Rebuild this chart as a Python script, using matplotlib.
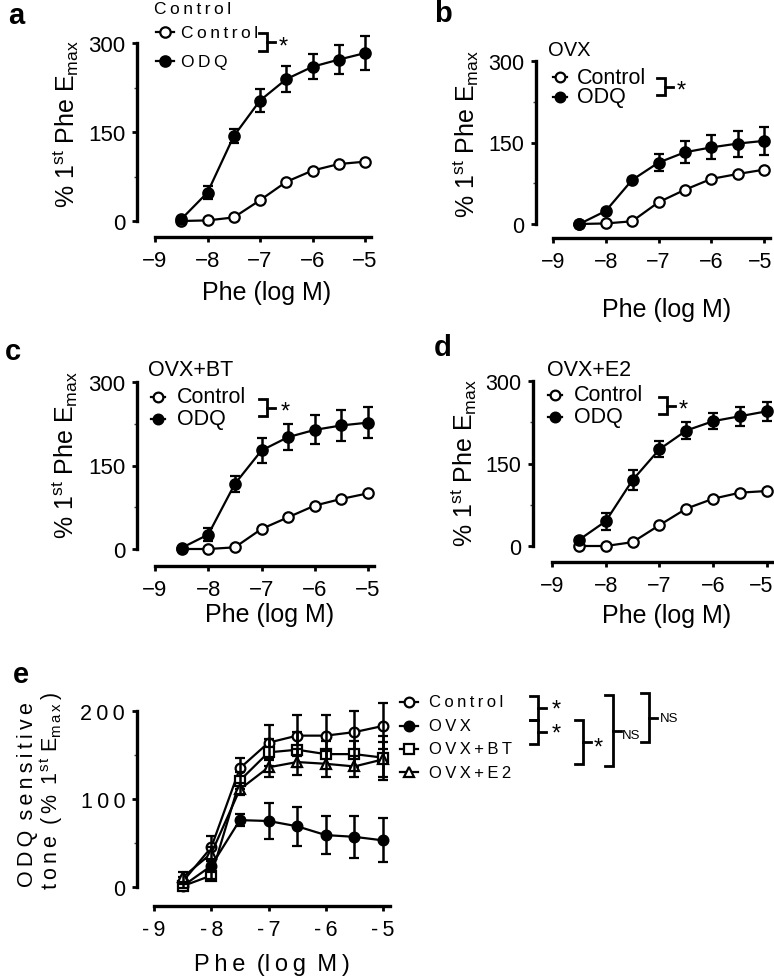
import matplotlib
matplotlib.use('Agg')
import matplotlib.pyplot as plt
from matplotlib.lines import Line2D
from matplotlib.transforms import ScaledTranslation

plt.rcParams['font.family'] = ['Liberation Sans', 'DejaVu Sans']
plt.rcParams['mathtext.fontset'] = 'custom'
plt.rcParams['mathtext.rm'] = 'Liberation Sans'
plt.rcParams['mathtext.it'] = 'Liberation Sans:italic'
plt.rcParams['mathtext.bf'] = 'Liberation Sans:bold'

# ---------------- data ----------------
log_phe = [-8.5, -8, -7.5, -7, -6.5, -6, -5.5, -5]
x_ticks = [-9, -8, -7, -6, -5]

a_control = [0, 1, 6, 35, 66, 85, 96, 100]
a_odq = [3, 48, 143, 203, 239, 260, 272, 283]
a_odq_err = [2, 11, 12, 19, 22, 21, 24, 28]

b_control = [0, 1, 5, 40, 63, 83, 92, 100]
b_odq = [0, 24, 81, 113, 132, 141, 148, 153]
b_odq_err = [1, 3, 3, 16, 20, 22, 24, 26]

c_control = [0, 0, 3, 36, 57, 78, 90, 100]
c_odq = [2, 26, 117, 177, 201, 214, 222, 227]
c_odq_err = [2, 12, 15, 22, 24, 26, 28, 28]

d_control = [0, 0, 7, 38, 68, 86, 97, 100]
d_odq = [11, 45, 120, 176, 210, 227, 236, 245]
d_odq_err = [3, 15, 19, 15, 15, 15, 17, 17]

e_control = [6, 45, 135, 164, 172, 172, 176, 183]
e_control_err = [5, 13, 12, 20, 23, 24, 24, 26]
e_ovx = [1, 24, 76, 75, 69, 59, 57, 53]
e_ovx_err = [2, 5, 7, 21, 22, 22, 24, 25]
e_bt = [1, 13, 121, 153, 156, 151, 151, 147]
e_bt_err = [2, 4, 10, 15, 20, 15, 15, 25]
e_e2 = [11, 38, 111, 136, 142, 140, 137, 145]
e_e2_err = [6, 8, 7, 11, 15, 15, 12, 20]

W, H = 774, 979
fig = plt.figure(figsize=(W / 100, H / 100), dpi=100)


def fx(px):
    return px / W


def fy(py):
    return 1 - py / H


def sp(s):
    return '\u2009'.join(s)


def make_axes(x_m9, x_m5, y_zero, y_top, top_val, xaxis_y, yspine_x,
              yticks, ytick_labels=None, xtick_labels=None, tick_fs=16,
              xmax=-4.88, shift_last=0):
    ppx = (x_m5 - x_m9) / 4.0
    ppy = (y_zero - y_top) / float(top_val)
    left = x_m9
    right = x_m9 + (xmax + 9) * ppx
    ymin = -(xaxis_y - y_zero) / ppy
    ax = fig.add_axes([fx(left), fy(xaxis_y), (right - left) / W,
                       (xaxis_y - y_top) / H])
    ax.set_xlim(-9, xmax)
    ax.set_ylim(ymin, top_val)
    ax.patch.set_visible(False)
    for s in ['top', 'right']:
        ax.spines[s].set_visible(False)
    ax.spines['left'].set_position(('outward', (left - yspine_x) * 0.72))
    ax.spines['left'].set_bounds(0, top_val)
    ax.spines['left'].set_linewidth(2.4)
    ax.spines['bottom'].set_linewidth(2.4)
    ax.set_yticks(yticks)
    ax.set_yticks([(yticks[i] + yticks[i + 1]) / 2 for i in range(len(yticks) - 1)],
                  minor=True)
    ax.set_xticks(x_ticks)
    ax.set_xticks([], minor=True)
    if ytick_labels is not None:
        ax.set_yticklabels(ytick_labels)
    if xtick_labels is not None:
        ax.set_xticklabels(xtick_labels)
    ax.tick_params(axis='both', which='major', direction='out', length=3.5,
                   width=2.0, labelsize=tick_fs, color='black')
    ax.tick_params(axis='y', which='major', pad=5)
    ax.tick_params(axis='x', which='major', pad=6)
    ax.tick_params(axis='y', which='minor', direction='out', length=2.5,
                   width=1.0, color='#444444')
    if shift_last:
        fig.canvas.draw()
        lab = ax.get_xticklabels()[-1]
        lab.set_transform(lab.get_transform() +
                          ScaledTranslation(-shift_last / 100.0, 0,
                                            fig.dpi_scale_trans))
    return ax


def plot_series(ax, y, err, filled, marker='o', ms=7.5, z=3):
    mfc = 'black' if filled else 'white'
    cont = ax.errorbar(log_phe, y, yerr=err, fmt='-' + marker, color='black',
                       mfc=mfc, mec='black', ms=ms, mew=1.6, lw=1.6,
                       elinewidth=1.8, capsize=3.8, capthick=1.8, zorder=z,
                       clip_on=False)
    for ch in cont.get_children():
        ch.set_clip_on(False)
        ch.set_zorder(z)
    return cont


def legend_row(xm, y, filled, label, label_x, fs, marker='o', ms=7.5,
               half=9):
    mfc = 'black' if filled else 'white'
    fig.add_artist(Line2D([fx(xm - half), fx(xm + half)], [fy(y), fy(y)],
                          transform=fig.transFigure, color='black', lw=1.6))
    fig.add_artist(Line2D([fx(xm)], [fy(y)], transform=fig.transFigure,
                          marker=marker, ms=ms, mfc=mfc, mec='black', mew=1.6,
                          color='black', lw=0))
    fig.text(fx(label_x), fy(y), label, ha='left', va='center', fontsize=fs)


def bracket(x, y1, y2, arm=8, tick=8, lw=2.0):
    fig.add_artist(Line2D([fx(x - arm), fx(x), fx(x), fx(x - arm)],
                          [fy(y1), fy(y1), fy(y2), fy(y2)],
                          transform=fig.transFigure, color='black', lw=lw,
                          solid_joinstyle='miter'))
    ym = (y1 + y2) / 2.0
    fig.add_artist(Line2D([fx(x), fx(x + tick)], [fy(ym), fy(ym)],
                          transform=fig.transFigure, color='black', lw=lw))


ylab = '% 1$^{\\mathrm{st}}$ Phe E$_{\\mathrm{max}}$'
xlab = 'Phe (log M)'

# ---------------- panel a ----------------
ax = make_axes(155, 365, 222, 44, 300, 238, 137, [0, 150, 300])
plot_series(ax, a_control, None, False, z=3)
plot_series(ax, a_odq, a_odq_err, True, z=4)
fig.text(fx(66), fy(124), ylab, rotation=90, ha='center', va='center', fontsize=18)
fig.text(fx(267), fy(293), xlab, ha='center', va='center', fontsize=18)
fig.text(fx(16), fy(16), 'a', ha='center', va='center', fontsize=21, fontweight='bold')
fig.text(fx(154), fy(13.5), sp('Control'), ha='left', va='baseline', fontsize=12.5)
legend_row(165, 33, False, sp('Control'), 181, 12.5)
legend_row(165, 62, True, sp('ODQ'), 181, 12.5)
bracket(267, 34, 52)
fig.text(fx(279), fy(48), '*', ha='left', va='center', fontsize=17)

# ---------------- panel b ----------------
ax = make_axes(553, 764, 225, 62, 300, 239, 536, [0, 150, 300], tick_fs=15.5,
               shift_last=4)
plot_series(ax, b_control, None, False, z=3)
plot_series(ax, b_odq, b_odq_err, True, z=4)
fig.text(fx(466), fy(134), ylab, rotation=90, ha='center', va='center', fontsize=18)
fig.text(fx(667), fy(310), xlab, ha='center', va='center', fontsize=18)
fig.text(fx(443), fy(14), 'b', ha='center', va='center', fontsize=21, fontweight='bold')
fig.text(fx(548), fy(50), 'OVX', ha='left', va='center', fontsize=14.5)
legend_row(560, 78, False, 'Control', 577, 15.5, ms=7, half=7)
legend_row(560, 98, True, 'ODQ', 577, 15.5, ms=7, half=7)
bracket(665, 79, 96)
fig.text(fx(677), fy(92), '*', ha='left', va='center', fontsize=17)

# ---------------- panel c ----------------
ax = make_axes(155, 368, 550, 383, 300, 567, 137, [0, 150, 300])
plot_series(ax, c_control, None, False, z=3)
plot_series(ax, c_odq, c_odq_err, True, z=4)
fig.text(fx(65), fy(455), ylab, rotation=90, ha='center', va='center', fontsize=18)
fig.text(fx(270), fy(615), xlab, ha='center', va='center', fontsize=18)
fig.text(fx(13), fy(352), 'c', ha='center', va='center', fontsize=21, fontweight='bold')
fig.text(fx(148), fy(370), 'OVX+BT', ha='left', va='center', fontsize=15.5)
legend_row(158, 398, False, 'Control', 177, 15.5, ms=7, half=7)
legend_row(158, 420, True, 'ODQ', 177, 15.5, ms=7, half=7)
bracket(267, 400, 417)
fig.text(fx(281), fy(413), '*', ha='left', va='center', fontsize=17)

# ---------------- panel d ----------------
ax = make_axes(552, 767, 547, 382, 300, 563, 533, [0, 150, 300], tick_fs=15.5,
               shift_last=6)
plot_series(ax, d_control, None, False, z=3)
plot_series(ax, d_odq, d_odq_err, True, z=4)
fig.text(fx(464), fy(463), ylab, rotation=90, ha='center', va='center', fontsize=18)
fig.text(fx(667), fy(616), xlab, ha='center', va='center', fontsize=18)
fig.text(fx(443), fy(348), 'd', ha='center', va='center', fontsize=21, fontweight='bold')
fig.text(fx(547), fy(370), 'OVX+E2', ha='left', va='center', fontsize=15.5)
legend_row(555, 396, False, 'Control', 574, 15.5, ms=7, half=7)
legend_row(555, 418, True, 'ODQ', 574, 15.5, ms=7, half=7)
bracket(667, 398, 415)
fig.text(fx(679), fy(411), '*', ha='left', va='center', fontsize=17)

# ---------------- panel e ----------------
ax = make_axes(154, 383, 888, 712, 200, 907, 137, [0, 100, 200],
               ytick_labels=[sp('0'), sp('100'), sp('200')],
               xtick_labels=[sp('-' + str(abs(t))) for t in x_ticks],
               tick_fs=15.5)
plot_series(ax, e_control, e_control_err, False, marker='o', ms=7, z=4)
plot_series(ax, e_ovx, e_ovx_err, True, marker='o', ms=7, z=3)
plot_series(ax, e_bt, e_bt_err, False, marker='s', ms=6.5, z=5)
plot_series(ax, e_e2, e_e2_err, False, marker='^', ms=7, z=6)
fig.text(fx(28), fy(795), sp('ODQ') + '\u2009 ' + sp('sensitive'), rotation=90,
         ha='center', va='center', fontsize=15.5)
fig.text(fx(51), fy(791),
         sp('tone') + '\u2009 (\u2009%\u2009 1$^{\\mathrm{s\\,t}}$ E$_{\\mathrm{m\\,a\\,x}}$\u2009)',
         rotation=90, ha='center', va='center', fontsize=15.5)
fig.text(fx(272), fy(965), sp('Phe') + '\u2009 (' + sp('log') + '\u2009 M\u2009)',
         ha='center', va='center', fontsize=17)
fig.text(fx(21), fy(675), 'e', ha='center', va='center', fontsize=21, fontweight='bold')

legend_row(409, 703, False, sp('Control'), 429, 12, marker='o', ms=7)
legend_row(409, 727, True, sp('OVX'), 429, 12, marker='o', ms=7)
legend_row(409, 750, False, sp('OVX+BT'), 429, 12, marker='s', ms=6.5)
legend_row(409, 773, False, sp('OVX+E2'), 429, 12, marker='^', ms=7)

bracket(538, 697, 721)
fig.text(fx(552), fy(711), '*', ha='left', va='center', fontsize=17)
bracket(538, 721, 745)
fig.text(fx(552), fy(735), '*', ha='left', va='center', fontsize=17)
bracket(583, 721, 765)
fig.text(fx(594), fy(749), '*', ha='left', va='center', fontsize=17)
bracket(613, 696, 767)
fig.text(fx(622), fy(736), 'NS', ha='left', va='center', fontsize=9.5)
bracket(649, 694, 743)
fig.text(fx(660), fy(719), 'NS', ha='left', va='center', fontsize=9.5)

fig.savefig('out.png', dpi=100)
